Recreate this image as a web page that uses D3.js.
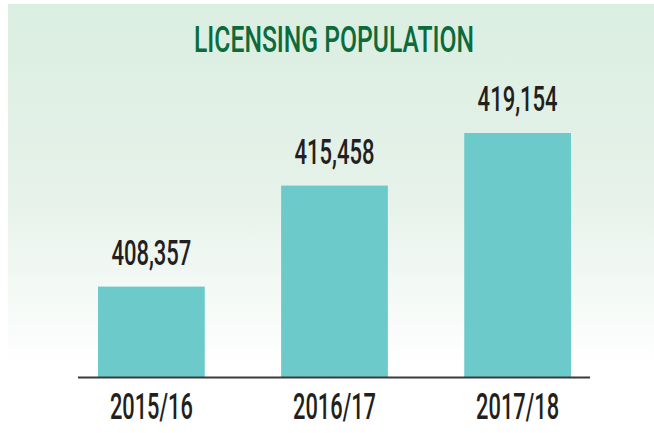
<!DOCTYPE html>
<html><head><meta charset="utf-8">
<script src="https://cdn.jsdelivr.net/npm/d3@7"></script>
<style>html,body{margin:0;padding:0;background:#fff;}svg{display:block;}</style>
</head><body>
<svg id="c" width="654" height="433"></svg>
<script>
const categories = ["2015/16", "2016/17", "2017/18"];
const values = [408357, 415458, 419154];
const title = "LICENSING POPULATION";

const svg = d3.select("#c");
const W = 654, H = 433;
const defs = svg.append("defs");
const g = defs.append("linearGradient").attr("id","bg").attr("x1",0).attr("y1",0).attr("x2",0).attr("y2",1);
g.append("stop").attr("offset","0%").attr("stop-color","#daeee1");
g.append("stop").attr("offset","45%").attr("stop-color","#e6f2ea");
g.append("stop").attr("offset","85%").attr("stop-color","#ffffff");
g.append("stop").attr("offset","100%").attr("stop-color","#ffffff");
svg.append("rect").attr("x",8).attr("y",4).attr("width",W-8).attr("height",H-4).attr("fill","url(#bg)");

const x = d3.scaleBand().domain(categories).range([98, 571]).paddingInner(0.417).paddingOuter(0);
const y = d3.scaleLinear().domain([402000, 419154]).range([377, 133]);

svg.selectAll("rect.bar").data(values).join("rect").attr("class","bar")
  .attr("x",(d,i)=>x(categories[i])).attr("width",x.bandwidth())
  .attr("y",d=>y(d)).attr("height",d=>377-y(d)).attr("fill","#6dcacb");

svg.append("line").attr("x1",78).attr("x2",590).attr("y1",377.5).attr("y2",377.5)
  .attr("stroke","#3a3a3a").attr("stroke-width",2);

const fmt = d3.format(",");
const font = "Roboto, 'Liberation Sans', sans-serif";
svg.selectAll("text.val").data(values).join("text").attr("class","val")
  .attr("x",(d,i)=>x(categories[i])+x.bandwidth()/2).attr("y",d=>y(d)-22)
  .attr("text-anchor","middle").attr("font-family",font).attr("font-size",35).attr("font-weight",500)
  .attr("fill","#231f20").attr("textLength",80).attr("lengthAdjust","spacingAndGlyphs")
  .text(d=>fmt(d));

svg.selectAll("text.cat").data(categories).join("text").attr("class","cat")
  .attr("x",d=>x(d)+x.bandwidth()/2).attr("y",419)
  .attr("text-anchor","middle").attr("font-family",font).attr("font-size",36).attr("font-weight",500)
  .attr("fill","#231f20").attr("textLength",83).attr("lengthAdjust","spacingAndGlyphs")
  .text(d=>d);

svg.append("text").attr("x",334).attr("y",52).attr("text-anchor","middle")
  .attr("font-family",font).attr("font-size",37).attr("font-weight",500)
  .attr("fill","#0b6b3a").attr("textLength",280).attr("lengthAdjust","spacingAndGlyphs")
  .text(title);
</script>
</body></html>
